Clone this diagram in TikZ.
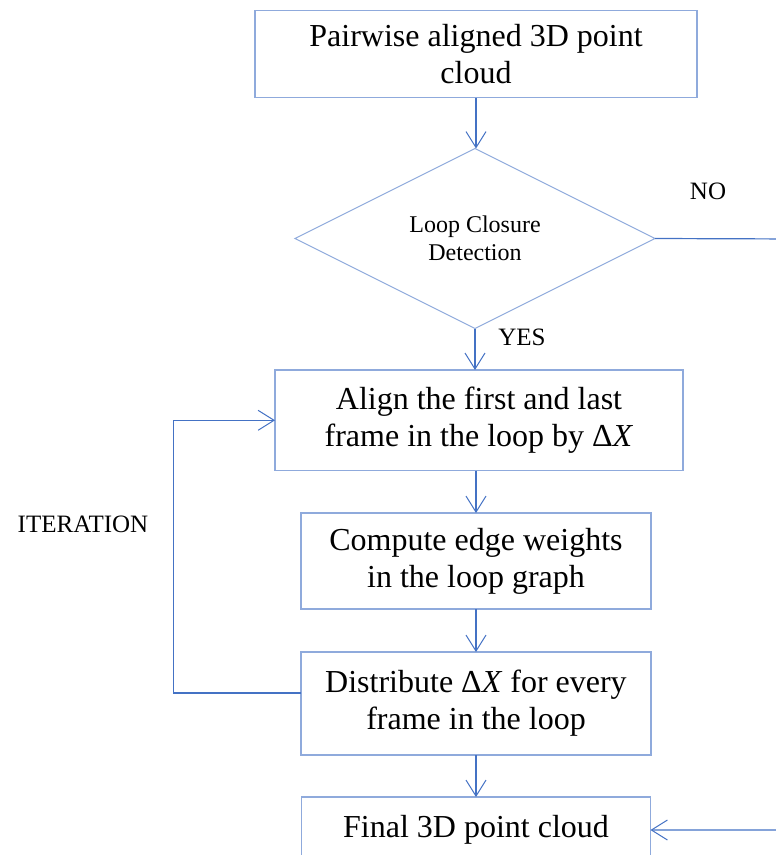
\documentclass[tikz,border=0pt]{standalone}
\usepackage{fontspec}
\setmainfont{Liberation Serif}
\usetikzlibrary{shapes.geometric,arrows.meta}
\definecolor{boxline}{RGB}{143,170,220}
\definecolor{arrowline}{RGB}{68,114,196}
\begin{document}
\begin{tikzpicture}[x=1pt,y=-1pt,
  stepbox/.style={draw=boxline,line width=1.1pt,inner sep=0pt,outer sep=0pt,align=center,
    font=\fontsize{32}{37}\selectfont},
  decision/.style={draw=boxline,line width=1pt,diamond,inner sep=0pt,outer sep=0pt,align=center,
    minimum width=360pt,minimum height=180pt,font=\fontsize{24}{28}\selectfont},
  flow/.style={draw=arrowline,line width=1.2pt,-{Straight Barb[length=16pt,width=20pt,line width=1pt]}},
  lbl/.style={font=\fontsize{25}{28}\selectfont,inner sep=0pt}
]
\useasboundingbox (0,0) rectangle (776,855);
\clip (0,0) rectangle (776,855);
\node[stepbox,minimum width=442pt,minimum height=87pt] (b1) at (476,54.3) {Pairwise aligned 3D point\\cloud};
\node[decision] (dia) at (475,238.5) {Loop Closure\\Detection};
\node[stepbox,minimum width=408pt,minimum height=100.7pt] (b2) at (479,420.3) {Align the first and last\\frame in the loop by Δ\textit{X}};
\node[stepbox,minimum width=350pt,minimum height=96pt] (b3) at (476,561) {Compute edge weights\\in the loop graph};
\node[stepbox,minimum width=350pt,minimum height=103pt] (b4) at (476,703.5) {Distribute Δ\textit{X} for every\\frame in the loop};
\node[stepbox,minimum width=349pt,minimum height=66pt] (b5) at (476,830) {Final 3D point cloud};
\node[lbl] (no) at (708,191) {NO};
\node[lbl] (yes) at (522,337) {YES};
\node[lbl] (it) at (83,524) {ITERATION};
\coordinate (r) at (800,239);
\coordinate (l) at (173.3,693);
\draw[flow] (b1.south) -- (b1.south|-dia.north);
\draw[flow] (dia.south) -- (b2.north-|dia.south);
\draw[flow] (b2.south-|b3.north) -- (b3.north);
\draw[flow] (b3.south) -- (b4.north);
\draw[flow] (b4.south) -- (b5.north);
\draw[flow] (dia.east) -- (r) |- (b5.east);
\draw[flow] (b4.west|-l) -- (l) |- (b2.west);
\end{tikzpicture}
\end{document}
